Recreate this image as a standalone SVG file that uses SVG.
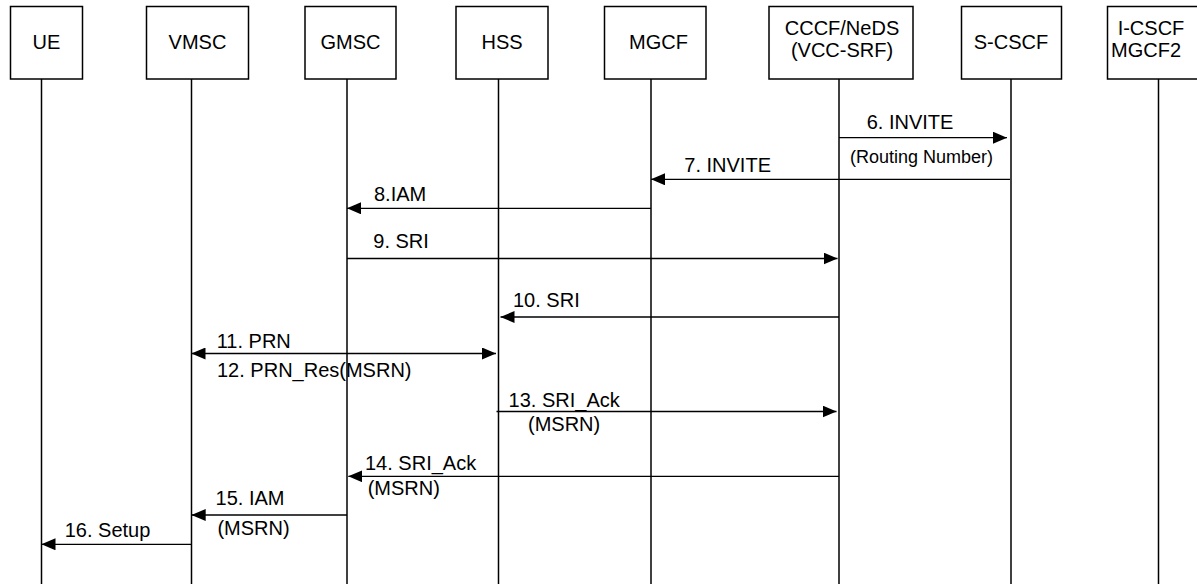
<svg xmlns="http://www.w3.org/2000/svg" width="1197" height="584" viewBox="0 0 1197 584">
<style>
.box{fill:#fff;stroke:#000;stroke-width:1.5}
.life{stroke:#000;stroke-width:1.5;fill:none}
.msg{stroke:#000;stroke-width:1.3;fill:none}
text{font-family:"Liberation Sans",Arial,sans-serif;font-size:20px;fill:#000}
.c{text-anchor:middle}
.s{font-size:18px}
</style>
<defs>
<marker id="ah" markerUnits="userSpaceOnUse" markerWidth="14" markerHeight="12" refX="14" refY="6" orient="auto-start-reverse">
<path d="M0,0 L14,6 L0,12 z" fill="#000"/>
</marker>
</defs>
<g id="UE"><rect class="box" x="10.5" y="6.5" width="72" height="72.5"/><text class="c" x="46.5" y="49">UE</text><line class="life" x1="41.5" y1="79" x2="41.5" y2="584"/></g>
<g id="VMSC"><rect class="box" x="146.5" y="6.5" width="102" height="72.5"/><text class="c" x="197.5" y="49">VMSC</text><line class="life" x1="191.5" y1="79" x2="191.5" y2="584"/></g>
<g id="GMSC"><rect class="box" x="305" y="6.5" width="91" height="72.5"/><text class="c" x="350.5" y="49">GMSC</text><line class="life" x1="347" y1="79" x2="347" y2="584"/></g>
<g id="HSS"><rect class="box" x="456" y="6.5" width="92" height="72.5"/><text class="c" x="502" y="49">HSS</text><line class="life" x1="498.5" y1="79" x2="498.5" y2="584"/></g>
<g id="MGCF"><rect class="box" x="604.5" y="6.5" width="101.5" height="72.5"/><text class="c" x="658.5" y="49">MGCF</text><line class="life" x1="651" y1="79" x2="651" y2="584"/></g>
<g id="CCCF"><rect class="box" x="769" y="6.5" width="144" height="72.5"/><text class="c" x="842" y="35">CCCF/NeDS</text><text class="c" x="842" y="57">(VCC-SRF)</text><line class="life" x1="839" y1="79" x2="839" y2="584"/></g>
<g id="SCSCF"><rect class="box" x="961.5" y="6.5" width="100" height="72.5"/><text class="c" x="1011" y="49">S-CSCF</text><line class="life" x1="1011" y1="79" x2="1011" y2="584"/></g>
<g id="ICSCF"><rect class="box" x="1107.5" y="6.5" width="100" height="72.5"/><text class="c" x="1151" y="35">I-CSCF</text><text class="c" x="1146" y="57">MGCF2</text><line class="life" x1="1158.5" y1="79" x2="1158.5" y2="584"/></g>
<g id="connectors">
<line class="msg" x1="839" y1="137.7" x2="1007" y2="137.7" marker-end="url(#ah)"/>
<text x="866.7" y="129">6. INVITE</text>
<text class="s" x="850" y="163">(Routing Number)</text>
<line class="msg" x1="1010" y1="179.3" x2="651" y2="179.3" marker-end="url(#ah)"/>
<text x="684.3" y="171.7">7. INVITE</text>
<line class="msg" x1="651" y1="208.3" x2="347" y2="208.3" marker-end="url(#ah)"/>
<text x="374" y="201">8.IAM</text>
<line class="msg" x1="347" y1="258.5" x2="837.5" y2="258.5" marker-end="url(#ah)"/>
<text x="373.3" y="247.7">9. SRI</text>
<line class="msg" x1="839" y1="317" x2="500.5" y2="317" marker-end="url(#ah)"/>
<text x="513" y="306.5">10. SRI</text>
<line class="msg" x1="191.5" y1="353.5" x2="496" y2="353.5" marker-start="url(#ah)" marker-end="url(#ah)"/>
<text x="216.7" y="347.7">11. PRN</text>
<text x="217" y="377">12. PRN_Res(MSRN)</text>
<line class="msg" x1="496.5" y1="411.5" x2="836.5" y2="411.5" marker-end="url(#ah)"/>
<text x="508.6" y="406.5">13. SRI_Ack</text>
<text x="528" y="431">(MSRN)</text>
<line class="msg" x1="839" y1="476.3" x2="348.3" y2="476.3" marker-end="url(#ah)"/>
<text x="365" y="470">14. SRI_Ack</text>
<text x="367.7" y="495">(MSRN)</text>
<line class="msg" x1="347" y1="515" x2="191.7" y2="515" marker-end="url(#ah)"/>
<text x="215.6" y="505">15. IAM</text>
<text x="217.4" y="535">(MSRN)</text>
<line class="msg" x1="191.5" y1="544.3" x2="41.5" y2="544.3" marker-end="url(#ah)"/>
<text x="64.7" y="537.3">16. Setup</text>
</g>
</svg>
